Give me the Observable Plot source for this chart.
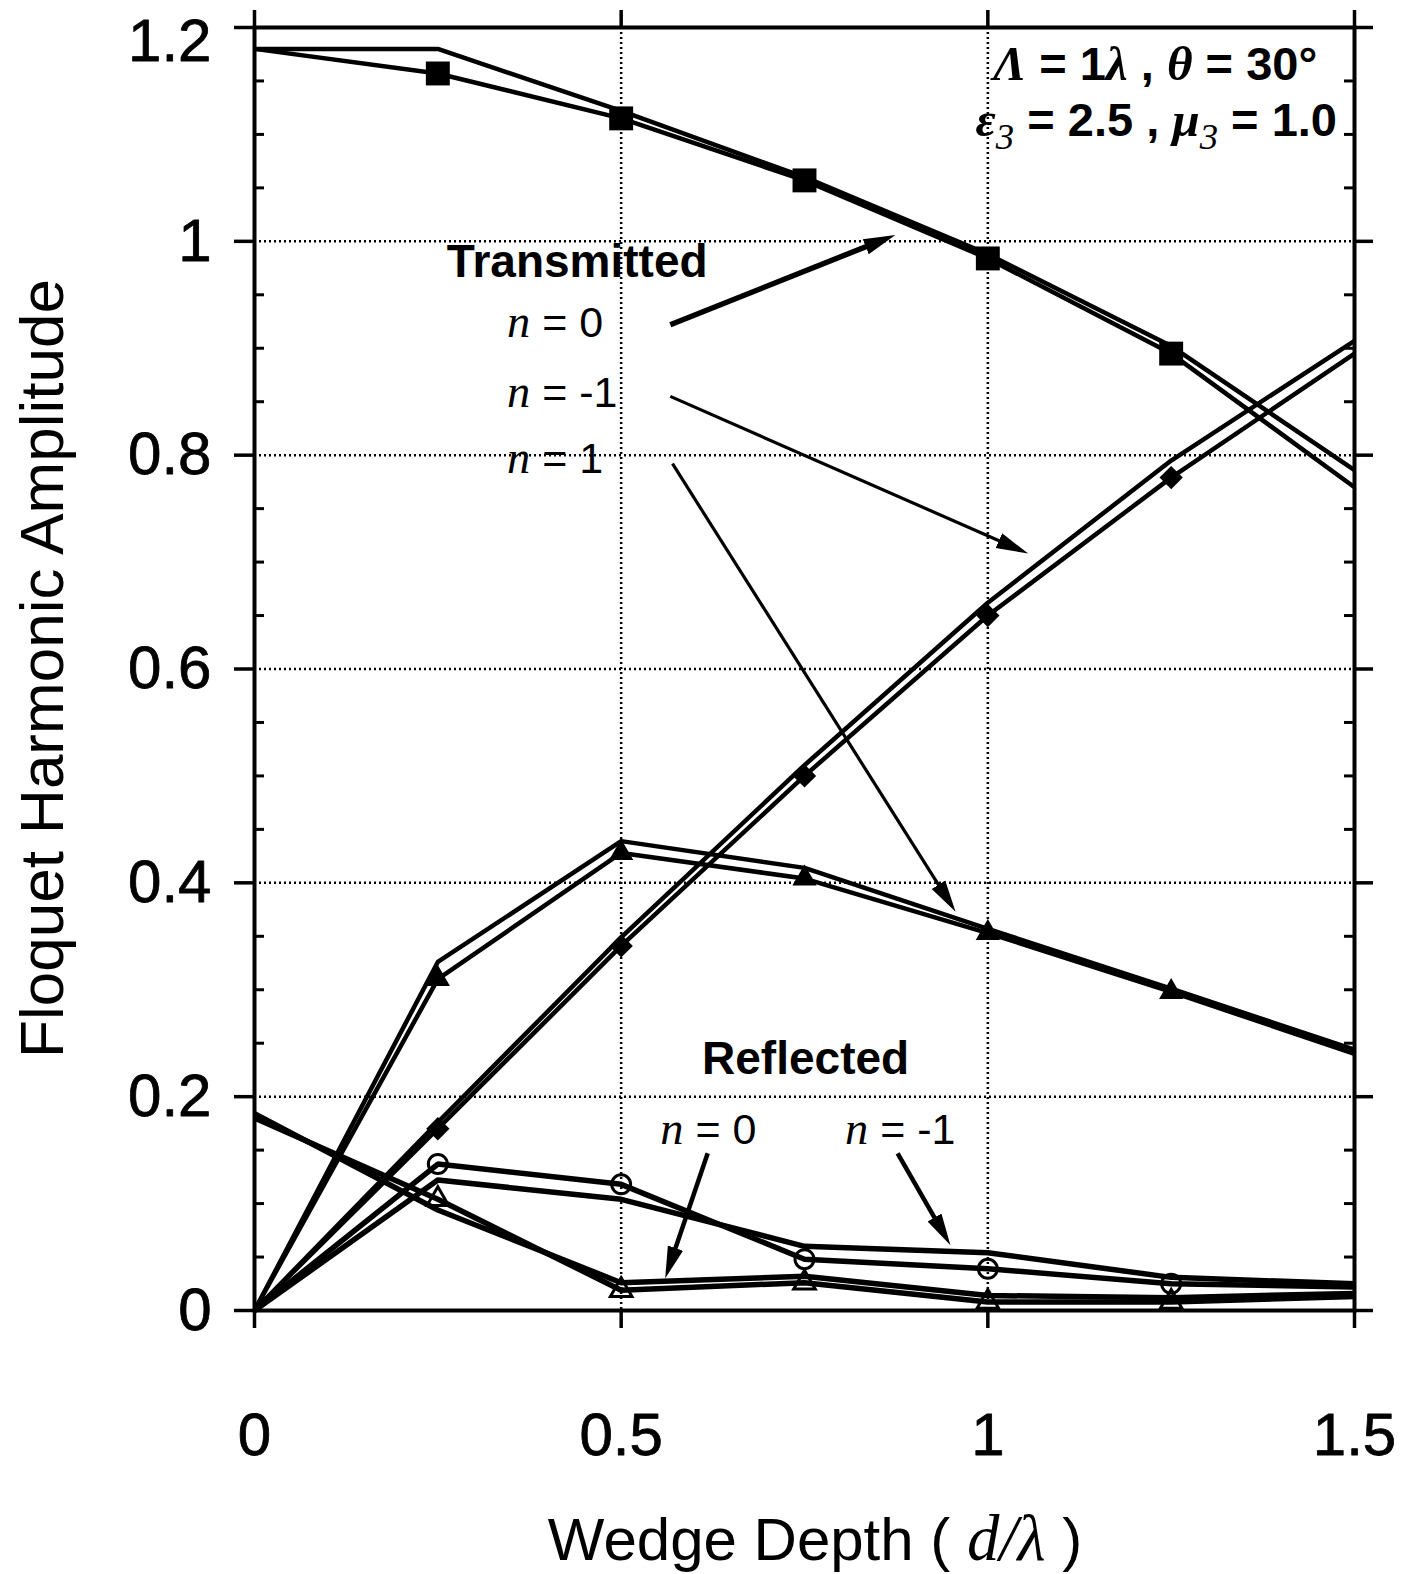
<!DOCTYPE html>
<html>
<head>
<meta charset="utf-8">
<script src="https://cdn.jsdelivr.net/npm/d3@7"></script>
<script src="https://cdn.jsdelivr.net/npm/@observablehq/plot@0.6"></script>
<style>
  html, body { margin: 0; padding: 0; background: #fff; }
  #chart { width: 1407px; height: 1574px; }
</style>
</head>
<body>
<div id="chart"></div>
<script>
// ---------- DATA ----------
const depth = [0, 0.25, 0.5, 0.75, 1.0, 1.25, 1.5];

// Transmitted harmonics (marked curve + companion curve)
const tN0Marked  = [1.18, 1.157, 1.115, 1.057, 0.984, 0.895, 0.770];
const tN0Plain   = [1.18, 1.180, 1.122, 1.060, 0.988, 0.902, 0.786];
const tNm1Marked = [0, 0.170, 0.341, 0.500, 0.650, 0.779, 0.895];
const tNm1Plain  = [0, 0.176, 0.349, 0.510, 0.662, 0.795, 0.907];
const tN1Marked  = [0, 0.310, 0.428, 0.404, 0.353, 0.298, 0.240];
const tN1Plain   = [0, 0.326, 0.439, 0.414, 0.357, 0.301, 0.244];

// Reflected harmonics
const rN0Marked  = [0.180, 0.104, 0.019, 0.026, 0.008, 0.008, 0.013];
const rN0Plain   = [0.184, 0.094, 0.026, 0.032, 0.014, 0.012, 0.016];
const rNm1Marked = [0, 0.137, 0.118, 0.048, 0.039, 0.025, 0.022];
const rNm1Plain  = [0, 0.122, 0.104, 0.060, 0.054, 0.031, 0.025];

const markerDepths = [0.25, 0.5, 0.75, 1.0, 1.25];

const xTicks = [0, 0.5, 1, 1.5];
const yTicks = [0, 0.2, 0.4, 0.6, 0.8, 1.0, 1.2];
const yMinorTicks = [0.05, 0.1, 0.15, 0.25, 0.3, 0.35, 0.45, 0.5, 0.55, 0.65, 0.7, 0.75,
                     0.85, 0.9, 0.95, 1.05, 1.1, 1.15];
const xGrid = [0.5, 1.0];
const yGrid = [0.2, 0.4, 0.6, 0.8, 1.0];

const xTitle = "Wedge Depth";
const yTitle = "Floquet Harmonic Amplitude";

// annotation arrows (data coordinates: tail -> head)
const arrows = [
  {x1: 0.567, y1: 0.922, x2: 0.874, y2: 1.006},   // transmitted n=0
  {x1: 0.567, y1: 0.855, x2: 1.055, y2: 0.708},   // transmitted n=-1
  {x1: 0.570, y1: 0.792, x2: 0.956, y2: 0.373},   // transmitted n=1
  {x1: 0.618, y1: 0.147, x2: 0.560, y2: 0.030},   // reflected n=0
  {x1: 0.877, y1: 0.147, x2: 0.949, y2: 0.061}    // reflected n=-1
];

// ---------- STYLE ----------
const SANS = "'Liberation Sans', Arial, Helvetica, sans-serif";
const SERIF = "'Liberation Serif', 'Times New Roman', Times, serif";

const series = [
  {id: "tN0m",  values: tN0Marked,  marker: {symbol: "square",   fill: "black", stroke: "none", r: 13.5}, w: 4.5},
  {id: "tN0p",  values: tN0Plain,   marker: null, w: 4.5},
  {id: "tNm1m", values: tNm1Marked, marker: {symbol: "diamond2", fill: "black", stroke: "none", r: 10.5}, w: 4.5},
  {id: "tNm1p", values: tNm1Plain,  marker: null, w: 4.5},
  {id: "tN1m",  values: tN1Marked,  marker: {symbol: "triangle", fill: "black", stroke: "none", r: 9}, w: 4.5},
  {id: "tN1p",  values: tN1Plain,   marker: null, w: 4.5},
  {id: "rN0m",  values: rN0Marked,  marker: {symbol: "triangle", fill: "none", stroke: "black", r: 8}, w: 5.5},
  {id: "rN0p",  values: rN0Plain,   marker: null, w: 5.5},
  {id: "rNm1m", values: rNm1Marked, marker: {symbol: "circle",   fill: "none", stroke: "black", r: 9.5}, w: 5.5},
  {id: "rNm1p", values: rNm1Plain,  marker: null, w: 5.5}
];

const lineRows = series.flatMap(s => depth.map((x, i) => ({id: s.id, x, y: s.values[i]})));

const W = 1407, H = 1574;
const M = {left: 254, right: 53, top: 27, bottom: 264};
const plotW = W - M.left - M.right;

const fmt = d => String(Math.round(d * 100) / 100);
const grid = {stroke: "black", strokeWidth: 2.5, strokeDasharray: "2,3"};

const marks = [
  Plot.ruleY(yGrid, grid),
  Plot.ruleX(xGrid, grid),
  Plot.tickY(yMinorTicks, {y: d => d, insetRight: plotW - 10, strokeWidth: 3}),
  Plot.tickY(yMinorTicks, {y: d => d, insetLeft: plotW - 10, strokeWidth: 3}),
  Plot.axisY(yTicks, {anchor: "left", tickSize: 20, tickPadding: 23, strokeWidth: 3.5,
                      fontSize: 60, tickFormat: fmt, label: null, textStroke: "black", textStrokeWidth: 0.8}),
  Plot.axisY(yTicks, {anchor: "right", tickSize: 18, strokeWidth: 3.5, tickFormat: () => "", label: null}),
  Plot.axisX(xTicks, {anchor: "bottom", tickSize: 18, tickPadding: 84, strokeWidth: 3.5,
                      fontSize: 60, tickFormat: fmt, label: null, textStroke: "black", textStrokeWidth: 0.8}),
  Plot.axisX(xTicks, {anchor: "top", tickSize: 18, strokeWidth: 3.5, tickFormat: () => "", label: null}),
  Plot.frame({strokeWidth: 4}),
];

for (const s of series) {
  marks.push(Plot.line(lineRows.filter(r => r.id === s.id),
    {x: "x", y: "y", stroke: "black", strokeWidth: s.w, strokeLinejoin: "miter", strokeLinecap: "butt"}));
}
for (const s of series) {
  if (!s.marker) continue;
  const rows = depth.map((x, i) => ({x, y: s.values[i]})).filter(r => markerDepths.includes(r.x));
  marks.push(Plot.dot(rows, {x: "x", y: "y", symbol: s.marker.symbol, r: s.marker.r,
    fill: s.marker.fill, stroke: s.marker.stroke, strokeWidth: 3}));
}
marks.push(Plot.link(arrows.filter((a, i) => i === 0), {x1: "x1", y1: "y1", x2: "x2", y2: "y2", stroke: "black", strokeWidth: 5.5}));
marks.push(Plot.link(arrows.filter((a, i) => i === 1 || i === 2), {x1: "x1", y1: "y1", x2: "x2", y2: "y2", stroke: "black", strokeWidth: 3.2}));
marks.push(Plot.link(arrows.filter((a, i) => i >= 3), {x1: "x1", y1: "y1", x2: "x2", y2: "y2", stroke: "black", strokeWidth: 4.5}));

const plot = Plot.plot({
  width: W, height: H,
  marginLeft: M.left, marginRight: M.right, marginTop: M.top, marginBottom: M.bottom,
  x: {domain: [0, 1.5]},
  y: {domain: [0, 1.2]},
  style: {fontFamily: SANS, fontSize: "60px", color: "black", background: "white", overflow: "visible"},
  marks
});
document.getElementById("chart").appendChild(plot);

// ---------- ANNOTATIONS (positioned through Plot's scales) ----------
const xs = plot.scale("x"), ys = plot.scale("y");
const svg = d3.select(plot);

// the top y tick label sits a little below its tick in the reference
svg.selectAll("g[aria-label='y-axis tick label'] text")
  .filter(function() { return this.textContent === "1.2"; })
  .attr("transform", function() { return (d3.select(this).attr("transform") || "") + " translate(0,14)"; });

// arrowheads
const defs = svg.insert("defs", ":first-child");
defs.append("marker").attr("id", "ah").attr("viewBox", "0 -9 32 18")
  .attr("markerWidth", 32).attr("markerHeight", 18).attr("refX", 17).attr("refY", 0)
  .attr("orient", "auto").attr("markerUnits", "userSpaceOnUse")
  .append("path").attr("d", "M0,-8L32,0L0,8Z").attr("fill", "black");
svg.selectAll("g[aria-label='link'] path").each(function() {
  const p = d3.select(this);
  const nums = p.attr("d").match(/-?[\d.]+/g).map(Number);
  const [x1, y1, x2, y2] = nums;
  const L = Math.hypot(x2 - x1, y2 - y1), k = (L - 15) / L;
  p.attr("d", `M${x1},${y1}L${x1 + (x2 - x1) * k},${y1 + (y2 - y1) * k}`).attr("marker-end", "url(#ah)");
});

const annotations = [
  {x: 0.263, y: 0.966, size: 46, parts: [["Transmitted", "b"]]},
  {x: 0.345, y: 0.910, size: 43, parts: [["n", "i"], [" = 0", "r"]]},
  {x: 0.345, y: 0.845, size: 43, parts: [["n", "i"], [" = -1", "r"]]},
  {x: 0.345, y: 0.783, size: 43, parts: [["n", "i"], [" = 1", "r"]]},
  {x: 0.611, y: 0.221, size: 46, parts: [["Reflected", "b"]]},
  {x: 0.554, y: 0.155, size: 43, parts: [["n", "i"], [" = 0", "r"]]},
  {x: 0.806, y: 0.155, size: 43, parts: [["n", "i"], [" = -1", "r"]]},
  {x: 1.008, y: 1.150, size: 47, parts: [["Λ", "ib"], [" = ", "b"], ["1", "b"], ["λ", "ib"], [" , ", "b"],
                                         ["θ", "ib"], [" = ", "b"], ["30°", "b"]]},
  {x: 0.984, y: 1.098, size: 47, parts: [["ε", "ib"], ["3", "sub"], [" = ", "b"], ["2.5", "b"], [" , ", "b"],
                                         ["μ", "ib"], ["3", "sub"], [" = ", "b"], ["1.0", "b"]]}
];

function richText(parent, x, y, size, parts, anchor = "start") {
  const t = parent.append("text").attr("x", x).attr("y", y).attr("font-size", size)
    .attr("text-anchor", anchor).attr("fill", "black").style("white-space", "pre");
  let shifted = false;
  for (const [s, kind] of parts) {
    const ts = t.append("tspan").text(s);
    if (shifted && kind !== "sub") { ts.attr("dy", -size * 0.28); shifted = false; }
    if (kind === "b") ts.attr("font-family", SANS).attr("font-weight", "bold");
    else if (kind === "r") ts.attr("font-family", SANS);
    else if (kind === "i") ts.attr("font-family", SERIF).attr("font-style", "italic").attr("font-size", size * 1.08);
    else if (kind === "ib") ts.attr("font-family", SERIF).attr("font-style", "italic").attr("font-weight", "bold").attr("font-size", size * 1.05);
    else if (kind === "sub") {
      ts.attr("font-family", SERIF).attr("font-style", "italic").attr("font-size", size * 0.78).attr("dy", size * 0.28);
      shifted = true;
    }
  }
  return t;
}

const ann = svg.append("g").attr("aria-label", "annotations");
for (const a of annotations) richText(ann, xs.apply(a.x), ys.apply(a.y), a.size, a.parts);

// axis titles
const [xr0, xr1] = xs.range, [yr0, yr1] = ys.range;
richText(svg, (xr0 + xr1) / 2 + 11, H - 14, 60,
  [[xTitle + " ( ", "r"], ["d", "i"], ["/", "i"], ["λ", "i"], [" )", "r"]], "middle");
svg.append("text").attr("transform", `translate(63,${(yr0 + yr1) / 2}) rotate(-90)`)
  .attr("text-anchor", "middle").attr("font-family", SANS).attr("font-size", 62)
  .attr("fill", "black").text(yTitle);
</script>
</body>
</html>
